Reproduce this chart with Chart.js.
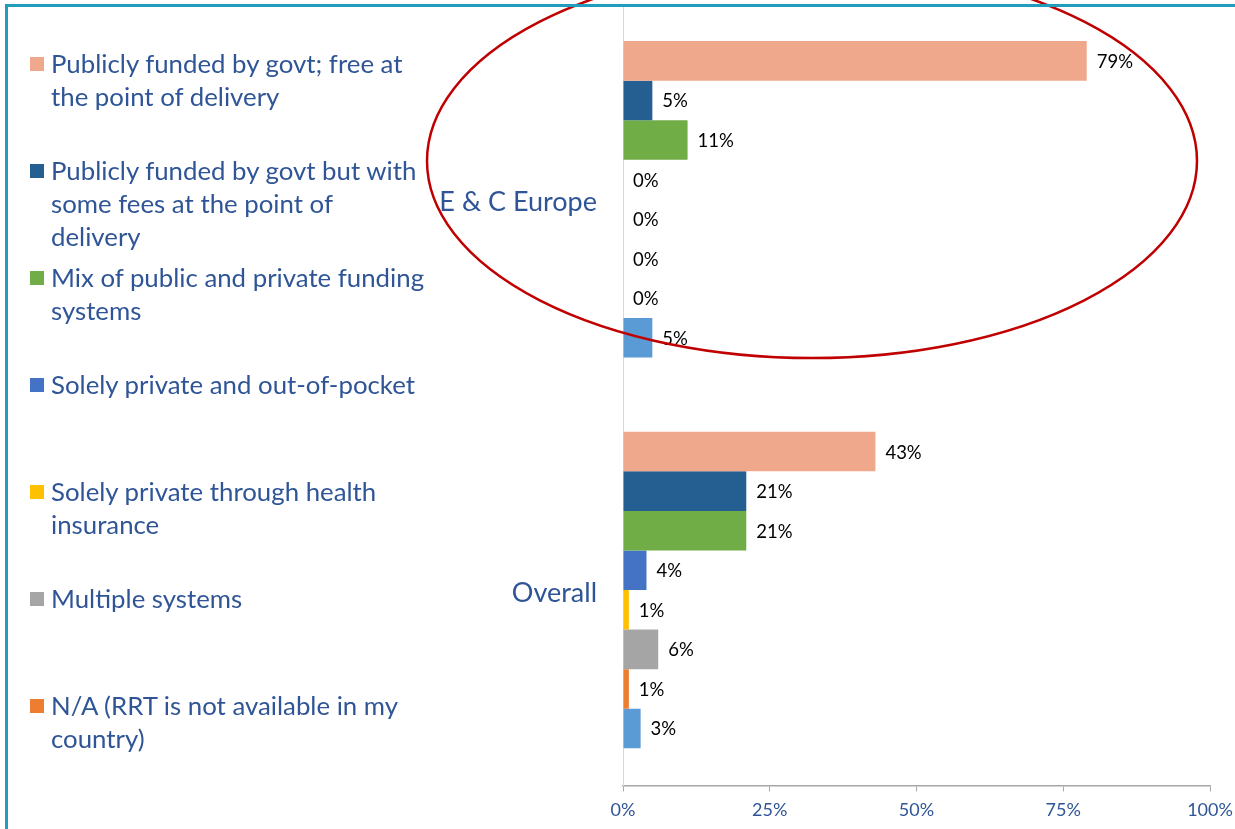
<!DOCTYPE html>
<html>
<head>
<meta charset="utf-8">
<script src="https://cdn.jsdelivr.net/npm/chart.js@4/dist/chart.umd.min.js"></script>
<style>
    html, body { margin: 0; padding: 0; background: #fff; }
    body { width: 1235px; height: 829px; position: relative; overflow: hidden; font-family: 'Lato', sans-serif; }
    #chart { position: absolute; left: 0; top: 0; }
    .frame-top { position: absolute; left: 6px; top: 4px; width: 1229px; height: 3px; background: #1f9dbb; }
    .frame-left { position: absolute; left: 5px; top: 4px; width: 3px; height: 825px; background: #1f9dbb; }
    #legend { position: absolute; left: 30px; top: 47px; }
    .item { height: 107px; display: flex; align-items: flex-start; }
    .swatch { width: 14px; height: 14px; margin-top: 10px; margin-right: 7px; flex: none; }
    .text { color: #2f5597; font-size: 25.8px; line-height: 33px; white-space: pre-line; }
</style>
</head>
<body>
<canvas id="chart" width="1235" height="829"></canvas>
<div class="frame-top"></div>
<div class="frame-left"></div>
<div id="legend"></div>
<script>
// Categories and series (values in %)
const categories = ['E & C Europe', 'Overall'];
const seriesNames = [
    'Publicly funded by govt; free at\nthe point of delivery',
    'Publicly funded by govt but with\nsome fees at the point of\ndelivery',
    'Mix of public and private funding\nsystems',
    'Solely private and out-of-pocket',
    'Solely private through health\ninsurance',
    'Multiple systems',
    'N/A (RRT is not available in my\ncountry)',
    '' // light blue series, no legend entry in the source
];
const seriesColors = ['#f0a88c', '#255e91', '#70ad47', '#4472c4', '#ffc000', '#a5a5a5', '#ed7d31', '#5b9bd5'];
const seriesValues = [
    [79, 43],
    [5, 21],
    [11, 21],
    [0, 4],
    [0, 1],
    [0, 6],
    [0, 1],
    [5, 3]
];
const xTicks = [0, 25, 50, 75, 100];

// Build the html legend
const legendEl = document.getElementById('legend');
seriesNames.forEach((name, i) => {
    if (!name) return;
    const item = document.createElement('div');
    item.className = 'item';
    item.innerHTML = '<div class="swatch" style="background:' + seriesColors[i] + '"></div><div class="text"></div>';
    item.querySelector('.text').textContent = name;
    legendEl.appendChild(item);
});

// Value labels at the end of each bar
const valueLabels = {
    id: 'valueLabels',
    afterDatasetsDraw(chart) {
        const ctx = chart.ctx;
        ctx.save();
        ctx.fillStyle = '#000';
        ctx.font = '18.5px Lato';
        ctx.textAlign = 'left';
        ctx.textBaseline = 'middle';
        chart.data.datasets.forEach((ds, i) => {
            chart.getDatasetMeta(i).data.forEach((bar, j) => {
                ctx.fillText(ds.data[j] + '%', bar.x + 10, bar.y + 1);
            });
        });
        ctx.restore();
    }
};

// Red highlight ellipse around the first group
const highlight = {
    id: 'highlight',
    afterDraw(chart) {
        const ctx = chart.ctx;
        ctx.save();
        ctx.strokeStyle = '#c00000';
        ctx.lineWidth = 2.5;
        ctx.beginPath();
        ctx.ellipse(812, 161, 385, 197, 0, 0, Math.PI * 2);
        ctx.stroke();
        ctx.restore();
    }
};

new Chart(document.getElementById('chart'), {
    type: 'bar',
    data: {
        labels: categories,
        datasets: seriesValues.map((vals, i) => ({
            label: seriesNames[i],
            data: vals,
            backgroundColor: seriesColors[i],
            borderWidth: 0
        }))
    },
    options: {
        indexAxis: 'y',
        responsive: false,
        animation: false,
        datasets: { bar: { barPercentage: 1, categoryPercentage: 0.81 } },
        layout: { padding: { top: 4, right: 25, left: 0, bottom: 0 } },
        plugins: { legend: { display: false }, tooltip: { enabled: false } },
        scales: {
            x: {
                min: 0,
                max: 100,
                afterBuildTicks: scale => { scale.ticks = xTicks.map(v => ({ value: v })); },
                afterFit: scale => { scale.paddingLeft = 0; scale.paddingRight = 0; },
                ticks: {
                    color: '#2f5597',
                    font: { family: 'Lato', size: 18 },
                    padding: 8,
                    callback: v => v + '%'
                },
                grid: { drawOnChartArea: false, drawTicks: true, tickLength: 6, color: '#a6a6a6' },
                border: { display: true, color: '#a6a6a6', width: 1.5 }
            },
            y: {
                afterFit: scale => {
                    scale.width = 623;
                    scale.paddingTop = 0;
                    scale.paddingBottom = 0;
                },
                ticks: {
                    color: '#2f5597',
                    font: { family: 'Lato', size: 27 },
                    padding: 18,
                    labelOffset: 3
                },
                grid: { display: false },
                border: { display: true, color: '#d9d9d9' }
            }
        }
    },
    plugins: [valueLabels, highlight]
});
</script>
</body>
</html>
